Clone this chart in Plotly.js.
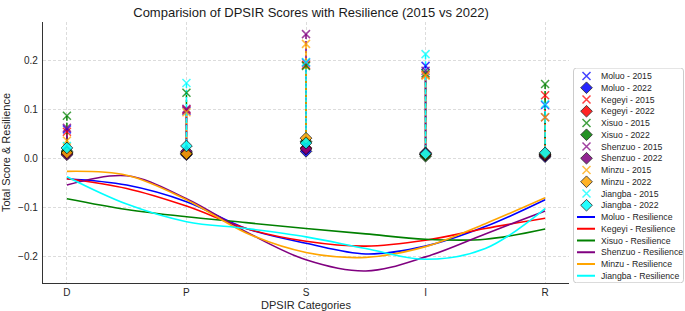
<!DOCTYPE html>
<html><head><meta charset="utf-8">
<script src="https://cdn.plot.ly/plotly-3.0.1.min.js"></script>
<style>html,body{margin:0;padding:0;background:#fff}#chart{width:685px;height:311px}</style>
</head><body><div id="chart"></div>
<script>
// ---------- data ----------
const categories = ['D', 'P', 'S', 'I', 'R'];
const counties = ['Moluo', 'Kegeyi', 'Xisuo', 'Shenzuo', 'Minzu', 'Jiangba'];
const countyColors = ['#0000ff', '#ff0000', '#008000', '#800080', '#ffa500', '#00ffff'];

// DPSIR total scores, 2015
const moluo2015   = [0.060, 0.098, 0.197, 0.190, 0.110];
const kegeyi2015  = [0.055, 0.100, 0.192, 0.172, 0.130];
const xisuo2015   = [0.088, 0.135, 0.190, 0.175, 0.153];
const shenzuo2015 = [0.063, 0.102, 0.255, 0.180, 0.085];
const minzu2015   = [0.037, 0.095, 0.235, 0.170, 0.085];
const jiangba2015 = [0.026, 0.155, 0.198, 0.214, 0.112];

// DPSIR total scores, 2022
const moluo2022   = [0.010, 0.008, 0.015, 0.008, 0.004];
const kegeyi2022  = [0.012, 0.010, 0.022, 0.010, 0.006];
const xisuo2022   = [0.015, 0.012, 0.035, 0.005, 0.008];
const shenzuo2022 = [0.008, 0.015, 0.020, 0.012, 0.008];
const minzu2022   = [0.012, 0.010, 0.042, 0.008, 0.010];
const jiangba2022 = [0.022, 0.026, 0.032, 0.010, 0.012];

// Resilience curves at every half category (D, D-P, P, P-S, S, S-I, I, I-R, R)
const resilienceSteps = [0, 0.5, 1, 1.5, 2, 2.5, 3, 3.5, 4];
const moluoRes   = [-0.041, -0.054, -0.088, -0.143, -0.173, -0.195, -0.179, -0.139, -0.084];
const kegeyiRes  = [-0.041, -0.061, -0.097, -0.143, -0.169, -0.179, -0.167, -0.143, -0.122];
const xisuoRes   = [-0.082, -0.104, -0.119, -0.131, -0.143, -0.154, -0.165, -0.165, -0.144];
const shenzuoRes = [-0.054, -0.035, -0.082, -0.150, -0.207, -0.230, -0.201, -0.154, -0.107];
const minzuRes   = [-0.026, -0.034, -0.084, -0.152, -0.192, -0.202, -0.180, -0.133, -0.080];
const jiangbaRes = [-0.037, -0.093, -0.129, -0.143, -0.160, -0.184, -0.206, -0.184, -0.102];

const yTicks = [-0.2, -0.1, 0.0, 0.1, 0.2];

const scores2015 = [moluo2015, kegeyi2015, xisuo2015, shenzuo2015, minzu2015, jiangba2015];
const scores2022 = [moluo2022, kegeyi2022, xisuo2022, shenzuo2022, minzu2022, jiangba2022];
const resilience = [moluoRes, kegeyiRes, xisuoRes, shenzuoRes, minzuRes, jiangbaRes];

// ---------- traces ----------
const FONT = 'Liberation Sans, Arial, sans-serif';
const catIdx = categories.map((c, i) => i);
const traces = [];

// dashed connectors 2015 -> 2022
counties.forEach((c, i) => {
  const xs = [], ys = [];
  catIdx.forEach(k => { xs.push(k, k, null); ys.push(scores2015[i][k], scores2022[i][k], null); });
  traces.push({x: xs, y: ys, mode: 'lines', type: 'scatter', xaxis: 'x', yaxis: 'y',
    line: {color: countyColors[i], width: 1.5, dash: '5px,2px'},
    hoverinfo: 'skip', showlegend: false});
});
// 2015 markers
counties.forEach((c, i) => {
  traces.push({x: catIdx, y: scores2015[i], mode: 'markers', type: 'scatter', name: c + ' - 2015',
    marker: {symbol: 'x-thin-open', size: 8, color: countyColors[i], opacity: 0.75,
      line: {color: countyColors[i], width: 1.5}}, showlegend: false});
});
// 2022 markers
counties.forEach((c, i) => {
  traces.push({x: catIdx, y: scores2022[i], mode: 'markers', type: 'scatter', name: c + ' - 2022',
    marker: {symbol: 'diamond', size: 9, color: countyColors[i], opacity: 0.85,
      line: {color: '#000', width: 0.8}}, showlegend: false});
});
// resilience curves
counties.forEach((c, i) => {
  traces.push({x: resilienceSteps, y: resilience[i], mode: 'lines', type: 'scatter', name: c + ' - Resilience',
    line: {color: countyColors[i], width: 1.6, shape: 'spline', smoothing: 1}, showlegend: false});
});

// ---------- custom legend (drawn on a second axis pair) ----------
const legendEntries = [];
counties.forEach((c, i) => {
  legendEntries.push({label: c + ' - 2015', kind: 'x', color: countyColors[i]});
  legendEntries.push({label: c + ' - 2022', kind: 'd', color: countyColors[i]});
});
counties.forEach((c, i) => legendEntries.push({label: c + ' - Resilience', kind: 'l', color: countyColors[i]}));

const annotations = [];
legendEntries.forEach((e, r) => {
  if (e.kind === 'l') {
    traces.push({x: [577, 595], y: [r, r], xaxis: 'x2', yaxis: 'y2', mode: 'lines', type: 'scatter',
      line: {color: e.color, width: 2}, hoverinfo: 'skip', showlegend: false});
  } else if (e.kind === 'x') {
    traces.push({x: [586.5], y: [r], xaxis: 'x2', yaxis: 'y2', mode: 'markers', type: 'scatter',
      marker: {symbol: 'x-thin-open', size: 8, color: e.color, opacity: 0.75, line: {color: e.color, width: 1.5}},
      hoverinfo: 'skip', showlegend: false});
  } else {
    traces.push({x: [586.5], y: [r], xaxis: 'x2', yaxis: 'y2', mode: 'markers', type: 'scatter',
      marker: {symbol: 'diamond', size: 9, color: e.color, opacity: 0.85, line: {color: '#000', width: 0.8}},
      hoverinfo: 'skip', showlegend: false});
  }
  annotations.push({xref: 'x2', yref: 'y2', x: 599, y: r, text: e.label, showarrow: false,
    xanchor: 'left', yanchor: 'middle', font: {family: FONT, size: 8.7, color: '#262626'}});
});

// rounded legend frame
const bx0 = 573.5, bx1 = 683.5, by0 = -0.68, by1 = 17.6, rx = 3, ry = 3 / 11.75;
const framePath = `M${bx0+rx},${by0} L${bx1-rx},${by0} Q${bx1},${by0} ${bx1},${by0+ry} L${bx1},${by1-ry} Q${bx1},${by1} ${bx1-rx},${by1} L${bx0+rx},${by1} Q${bx0},${by1} ${bx0},${by1-ry} L${bx0},${by0+ry} Q${bx0},${by0} ${bx0+rx},${by0} Z`;

const layout = {
  width: 685, height: 311,
  margin: {l: 43, r: 1, t: 22, b: 28, pad: 0},
  paper_bgcolor: '#fff', plot_bgcolor: '#fff',
  showlegend: false,
  font: {family: FONT, color: '#262626'},
  title: {text: 'Comparision of DPSIR Scores with Resilience (2015 vs 2022)',
    font: {family: FONT, size: 13, color: '#1a1a1a'},
    xref: 'container', x: 311 / 685, xanchor: 'center',
    yref: 'container', y: 1 - 12.7 / 311, yanchor: 'middle'},
  xaxis: {domain: [0, (569 - 43) / 641], range: [-0.2, 4.2], tickvals: catIdx, ticktext: categories,
    showline: true, linecolor: '#333', linewidth: 1.2, ticks: '', zeroline: false,
    showgrid: true, gridcolor: '#d3d3d3', gridwidth: 0.8, griddash: '3px,2px',
    tickfont: {family: FONT, size: 10, color: '#262626'}, ticklabelstandoff: 0,
    title: {text: 'DPSIR Categories', font: {family: FONT, size: 11, color: '#262626'}, standoff: 7}},
  yaxis: {domain: [0, 1], range: [-0.2545, 0.2798], tickvals: yTicks, tickformat: '.1f',
    showline: true, linecolor: '#333', linewidth: 1.2, ticks: '', zeroline: false,
    showgrid: true, gridcolor: '#d3d3d3', gridwidth: 0.8, griddash: '3px,2px',
    tickfont: {family: FONT, size: 10, color: '#262626'}, ticklabelstandoff: 2,
    title: {text: 'Total Score &amp; Resilience', font: {family: FONT, size: 11, color: '#262626'}, standoff: 6}},
  xaxis2: {domain: [(573 - 43) / 641, 1], range: [573, 684], anchor: 'y2', visible: false, fixedrange: true},
  yaxis2: {domain: [0, (283 - 68) / 261], range: [(283 - 76) / 11.75, (68 - 76) / 11.75], anchor: 'x2',
    visible: false, fixedrange: true},
  shapes: [{type: 'path', xref: 'x2', yref: 'y2', path: framePath, layer: 'below',
    line: {color: '#cccccc', width: 1}, fillcolor: 'rgba(255,255,255,0.8)'}],
  annotations: annotations
};

Plotly.newPlot('chart', traces, layout, {staticPlot: true, displayModeBar: false});
</script></body></html>
